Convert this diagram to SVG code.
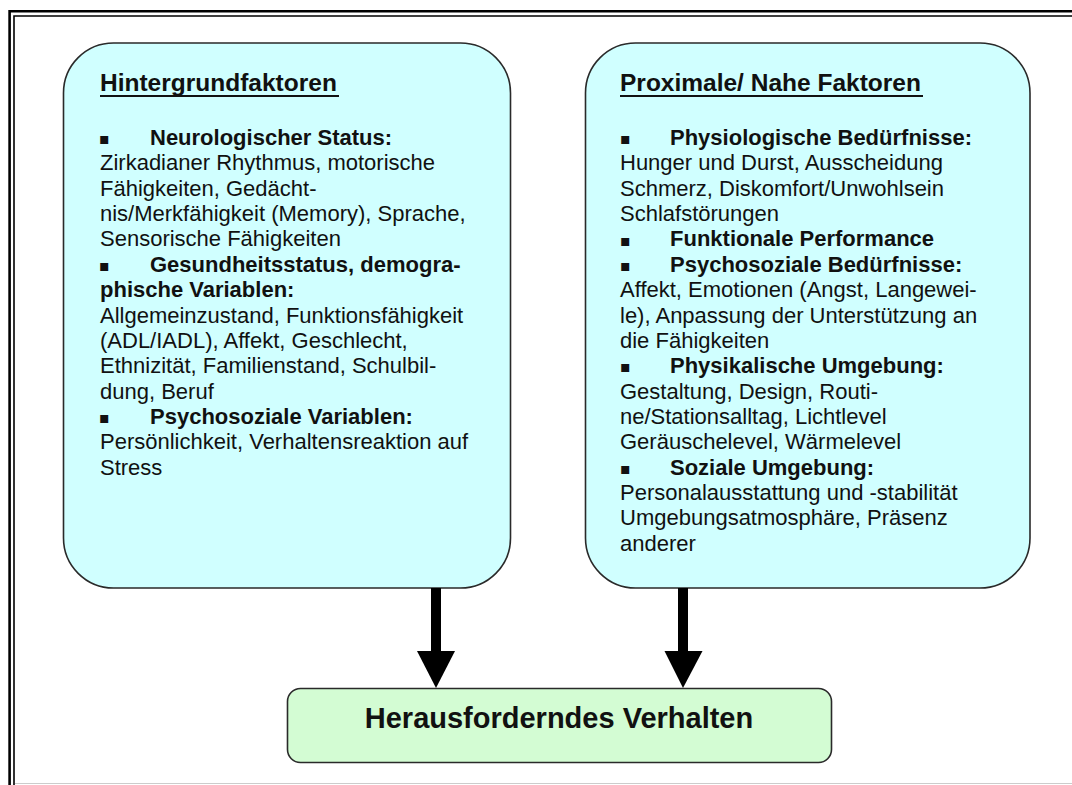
<svg xmlns="http://www.w3.org/2000/svg" width="1072" height="785" viewBox="0 0 1072 785">
<style>
.box{fill:#d0ffff;stroke:#2a2a2a;stroke-width:1.6}
.green{fill:#d3fcd3;stroke:#2a2a2a;stroke-width:1.6}
.t{font-family:"Liberation Sans",Arial,sans-serif;font-size:22px;fill:#111}
.b{font-weight:bold}
.h{font-family:"Liberation Sans",Arial,sans-serif;font-size:24.5px;font-weight:bold;fill:#111}
.bul{font-family:"DejaVu Sans",sans-serif;font-size:16px;fill:#111}
.ul{stroke:#111;stroke-width:2}
.frame{fill:none;stroke:#000}
.shaft{fill:#000}
</style>
<rect x="0" y="0" width="1072" height="785" fill="#fff"/>
<g id="frame">
<path class="frame" d="M9.6 785 V11.2 H1072" stroke-width="2.6"/>
<path class="frame" d="M14 785 V16 H1072" stroke-width="1.6"/>
<line x1="15" y1="783.5" x2="1072" y2="783.5" stroke="#ccc" stroke-width="1"/>
</g>
<g id="hintergrund">
<rect class="box" x="63.5" y="43" width="447" height="545" rx="50" ry="50"/>
<text class="h" x="100" y="91">Hintergrundfaktoren</text>
<line class="ul" x1="100" y1="96" x2="339" y2="96"/>
<text class="bul" x="99" y="144">▪</text><text class="t b" x="150" y="145">Neurologischer Status:</text>
<text class="t" x="100" y="170.4">Zirkadianer Rhythmus, motorische</text>
<text class="t" x="100" y="195.7">Fähigkeiten, Gedächt-</text>
<text class="t" x="100" y="221">nis/Merkfähigkeit (Memory), Sprache,</text>
<text class="t" x="100" y="246.4">Sensorische Fähigkeiten</text>
<text class="bul" x="99" y="271">▪</text><text class="t b" x="150" y="271.8">Gesundheitsstatus, demogra-</text>
<text class="t b" x="100" y="297.1">phische Variablen:</text>
<text class="t" x="100" y="322.5">Allgemeinzustand, Funktionsfähigkeit</text>
<text class="t" x="100" y="347.8">(ADL/IADL), Affekt, Geschlecht,</text>
<text class="t" x="100" y="373.2">Ethnizität, Familienstand, Schulbil-</text>
<text class="t" x="100" y="398.5">dung, Beruf</text>
<text class="bul" x="99" y="423">▪</text><text class="t b" x="150" y="423.9">Psychosoziale Variablen:</text>
<text class="t" x="100" y="449.2">Persönlichkeit, Verhaltensreaktion auf</text>
<text class="t" x="100" y="474.6">Stress</text>
</g>
<g id="proximal">
<rect class="box" x="585.5" y="43" width="444.5" height="545" rx="50" ry="50"/>
<text class="h" x="620" y="91">Proximale/ Nahe Faktoren</text>
<line class="ul" x1="620" y1="96" x2="923" y2="96"/>
<text class="bul" x="620" y="144">▪</text><text class="t b" x="670" y="145">Physiologische Bedürfnisse:</text>
<text class="t" x="620" y="170.4">Hunger und Durst, Ausscheidung</text>
<text class="t" x="620" y="195.7">Schmerz, Diskomfort/Unwohlsein</text>
<text class="t" x="620" y="221">Schlafstörungen</text>
<text class="bul" x="620" y="245.6">▪</text><text class="t b" x="670" y="246.4">Funktionale Performance</text>
<text class="bul" x="620" y="271">▪</text><text class="t b" x="670" y="271.8">Psychosoziale Bedürfnisse:</text>
<text class="t" x="620" y="297.1">Affekt, Emotionen (Angst, Langewei-</text>
<text class="t" x="620" y="322.5">le), Anpassung der Unterstützung an</text>
<text class="t" x="620" y="347.8">die Fähigkeiten</text>
<text class="bul" x="620" y="372.4">▪</text><text class="t b" x="670" y="373.2">Physikalische Umgebung:</text>
<text class="t" x="620" y="398.5">Gestaltung, Design, Routi-</text>
<text class="t" x="620" y="423.9">ne/Stationsalltag, Lichtlevel</text>
<text class="t" x="620" y="449.2">Geräuschelevel, Wärmelevel</text>
<text class="bul" x="620" y="473.8">▪</text><text class="t b" x="670" y="474.6">Soziale Umgebung:</text>
<text class="t" x="620" y="499.9">Personalausstattung und -stabilität</text>
<text class="t" x="620" y="525.3">Umgebungsatmosphäre, Präsenz</text>
<text class="t" x="620" y="550.6">anderer</text>
</g>
<g id="verhalten">
<rect class="green" x="287.5" y="688.5" width="544" height="74" rx="13" ry="13"/>
<text x="559" y="728" text-anchor="middle" font-family="Liberation Sans, Arial, sans-serif" font-size="29" font-weight="bold" fill="#111">Herausforderndes Verhalten</text>
</g>
<g id="connectors">
<rect class="shaft" x="431" y="588" width="10" height="64"/>
<polygon class="shaft" points="417,651 455,651 436,688"/>
<rect class="shaft" x="678" y="588" width="10" height="64"/>
<polygon class="shaft" points="664.5,651 702.5,651 683,688"/>
</g>
</svg>
